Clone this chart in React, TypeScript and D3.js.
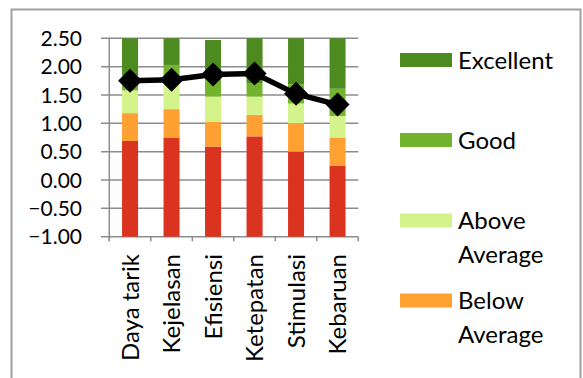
import React from "react";
import * as d3 from "d3";

const categories = ["Daya tarik", "Kejelasan", "Efisiensi", "Ketepatan", "Stimulasi", "Kebaruan"];
// upper bound of each benchmark band (bands are stacked from the axis minimum -1)
const badTop = [0.69, 0.75, 0.59, 0.77, 0.5, 0.25];
const belowAverageTop = [1.18, 1.25, 1.03, 1.15, 1.0, 0.75];
const aboveAverageTop = [1.58, 1.73, 1.47, 1.47, 1.35, 1.13];
const goodTop = [1.84, 2.03, 1.88, 1.7, 1.69, 1.61];
const excellentTop = [2.5, 2.5, 2.47, 2.5, 2.5, 2.5];
const meanValues = [1.75, 1.77, 1.86, 1.88, 1.52, 1.33];
const yTicks = [-1, -0.5, 0, 0.5, 1, 1.5, 2, 2.5];

const bands = [
  { name: "Bad", tops: badTop, color: "#DA3320" },
  { name: "Below Average", tops: belowAverageTop, color: "#FFA033" },
  { name: "Above Average", tops: aboveAverageTop, color: "#D4F38A" },
  { name: "Good", tops: goodTop, color: "#73B32E" },
  { name: "Excellent", tops: excellentTop, color: "#4D8A1F" },
];

const legendItems = [
  { lines: ["Excellent"], color: "#4D8A1F", y: 60 },
  { lines: ["Good"], color: "#73B32E", y: 140 },
  { lines: ["Above", "Average"], color: "#D4F38A", y: 220.5 },
  { lines: ["Below", "Average"], color: "#FFA033", y: 300.5 },
];

const FONT = "Lato, 'Open Sans', sans-serif";

export default function App() {
  const W = 583, H = 378;
  const left = 109.3, right = 358.3, top = 38.3, bottom = 236.7;
  const y = d3.scaleLinear().domain([-1, 2.5]).range([bottom, top]);
  const x = d3.scaleBand().domain(categories).range([left, right]).paddingInner(0.614).paddingOuter(0.307);
  const step = x.step();
  const cx = (c: string) => (x(c) as number) + x.bandwidth() / 2;
  const line = d3.line<number>().x((_, i) => cx(categories[i])).y((d) => y(d));
  const grid = "#8C8C8C";
  const diamond = (px: number, py: number, r: number) =>
    `M${px},${py - r}L${px + r},${py}L${px},${py + r}L${px - r},${py}Z`;

  return (
    <svg width={W} height={H} style={{ position: "absolute", left: 0, top: 0, background: "#fff" }} fontFamily={FONT}>
      <rect x={11.5} y={9.5} width={569} height={400} fill="none" stroke="#A0A0A0" strokeWidth={2} />
      {/* gridlines */}
      {yTicks.map((t) => (
        <line key={t} x1={101} x2={right} y1={y(t)} y2={y(t)} stroke={grid} strokeWidth={1.5} />
      ))}
      {/* vertical axis */}
      <line x1={left} x2={left} y1={top} y2={bottom + 4.5} stroke={grid} strokeWidth={1.5} />
      {/* x ticks */}
      {d3.range(categories.length + 1).map((i) => (
        <line key={i} x1={left + i * step} x2={left + i * step} y1={bottom} y2={bottom + 4.5} stroke={grid} strokeWidth={1.5} />
      ))}
      {/* bars */}
      {categories.map((c, ci) =>
        bands.map((b, bi) => {
          const lo = bi === 0 ? -1 : bands[bi - 1].tops[ci];
          const hi = b.tops[ci];
          return (
            <rect key={c + b.name} x={x(c)} width={x.bandwidth()} y={y(hi)} height={y(lo) - y(hi)} fill={b.color} />
          );
        })
      )}
      {/* y tick labels */}
      {yTicks.map((t) => (
        <text key={t} x={82} y={y(t)} dy="0.36em" textAnchor="end" fontSize={21} fill="#000">
          {d3.format(".2f")(t)}
        </text>
      ))}
      {/* category labels */}
      {categories.map((c) => (
        <text key={c} transform={`translate(${cx(c)},254) rotate(-90)`} dy="0.36em" textAnchor="end" fontSize={24} fill="#000">
          {c}
        </text>
      ))}
      {/* mean line */}
      <path d={line(meanValues) || ""} fill="none" stroke="#000" strokeWidth={5.5} strokeLinejoin="round" />
      {meanValues.map((v, i) => (
        <path key={i} d={diamond(cx(categories[i]), y(v), 12)} fill="#000" />
      ))}
      {/* legend */}
      {legendItems.map((it) => (
        <g key={it.lines[0]}>
          <rect x={400} y={it.y - 7} width={52} height={14} fill={it.color} />
          {it.lines.map((l, li) => (
            <text key={l} x={458} y={it.y + li * 34} dy="0.36em" fontSize={24} fill="#000">
              {l}
            </text>
          ))}
        </g>
      ))}
    </svg>
  );
}
